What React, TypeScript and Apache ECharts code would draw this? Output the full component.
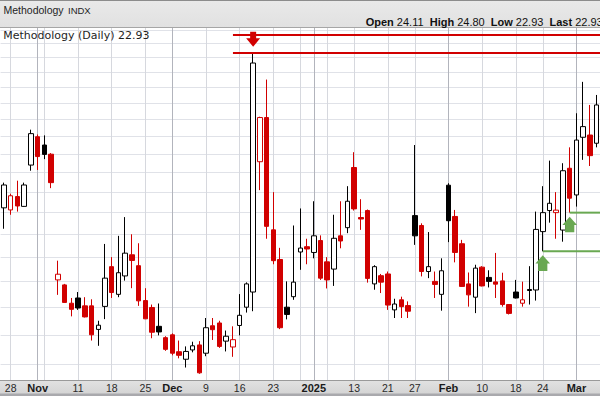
import React, { useEffect, useRef } from "react";
import * as echarts from "echarts";

const dates = [
  "2024-10-25", "2024-10-28", "2024-10-29", "2024-10-30", "2024-10-31",
  "2024-11-01", "2024-11-04", "2024-11-05", "2024-11-06", "2024-11-07", "2024-11-08",
  "2024-11-11", "2024-11-12", "2024-11-13", "2024-11-14", "2024-11-15",
  "2024-11-18", "2024-11-19", "2024-11-20", "2024-11-21", "2024-11-22",
  "2024-11-25", "2024-11-26", "2024-11-27", "2024-11-29",
  "2024-12-02", "2024-12-03", "2024-12-04", "2024-12-05", "2024-12-06",
  "2024-12-09", "2024-12-10", "2024-12-11", "2024-12-12", "2024-12-13",
  "2024-12-16", "2024-12-17", "2024-12-18", "2024-12-19", "2024-12-20",
  "2024-12-23", "2024-12-24", "2024-12-26", "2024-12-27", "2024-12-30", "2024-12-31",
  "2025-01-02", "2025-01-03", "2025-01-06", "2025-01-07", "2025-01-08", "2025-01-10",
  "2025-01-13", "2025-01-14", "2025-01-15", "2025-01-16", "2025-01-17",
  "2025-01-21", "2025-01-22", "2025-01-23", "2025-01-24",
  "2025-01-27", "2025-01-28", "2025-01-29", "2025-01-30", "2025-01-31",
  "2025-02-03", "2025-02-04", "2025-02-05", "2025-02-06", "2025-02-07",
  "2025-02-10", "2025-02-11", "2025-02-12", "2025-02-13", "2025-02-14",
  "2025-02-18", "2025-02-19", "2025-02-20", "2025-02-21",
  "2025-02-24", "2025-02-25", "2025-02-26", "2025-02-27", "2025-02-28",
  "2025-03-03", "2025-03-04", "2025-03-05", "2025-03-06",
];

const opens = [
  19.23, 19.13, 19.78, 19.30, 21.40,
  22.97, 22.50, 21.99, 16.06, 15.86, 15.15,
  15.35, 15.05, 15.05, 14.19, 15.03,
  16.60, 15.49, 16.22, 17.10, 16.64,
  15.25, 14.99, 14.30, 13.90,
  14.00, 13.42, 13.17, 13.48, 13.65,
  13.37, 14.32, 14.42, 13.78, 13.58,
  14.33, 15.00, 15.58, 21.58, 24.10,
  18.20, 16.90, 15.00, 15.40, 17.22, 17.45,
  17.20, 17.72, 16.80, 16.50, 17.93, 18.30,
  21.27, 18.77, 19.10, 15.90, 16.23,
  16.30, 14.90, 15.28, 15.06,
  18.86, 18.40, 16.40, 16.00, 15.49,
  20.35, 18.82, 17.58, 15.90, 15.38,
  16.58, 16.16, 15.98, 16.02, 15.10,
  15.58, 15.15, 15.68, 15.66,
  18.12, 19.10, 19.00, 18.19, 21.23,
  19.86, 22.94, 23.07, 22.60,
];

const highs = [
  20.48, 19.92, 20.58, 20.48, 23.38,
  23.10, 23.05, 22.05, 16.85, 15.90, 15.35,
  15.58, 15.38, 15.30, 14.50, 17.57,
  17.00, 17.93, 18.79, 18.00, 17.60,
  15.73, 15.10, 15.14, 13.95,
  14.05, 13.80, 13.60, 13.76, 13.78,
  14.60, 14.60, 14.50, 14.15, 14.30,
  15.50, 15.96, 28.32, 24.15, 26.50,
  20.00, 17.40, 16.00, 18.40, 19.20, 17.80,
  19.55, 17.95, 17.00, 18.90, 19.55, 20.30,
  22.10, 19.65, 19.15, 16.66, 16.30,
  16.40, 15.32, 15.40, 15.22,
  22.50, 18.50, 18.10, 16.40, 16.95,
  20.45, 19.13, 17.75, 16.36, 16.68,
  16.62, 16.45, 17.18, 16.35, 15.12,
  16.06, 15.99, 16.62, 19.05,
  20.30, 21.64, 20.00, 21.50, 22.37,
  24.36, 26.35, 24.87, 25.50,
];

const lows = [
  18.25, 18.90, 19.05, 19.28, 21.10,
  21.14, 21.72, 20.20, 15.47, 15.17, 14.66,
  14.90, 14.62, 13.80, 13.62, 14.56,
  15.35, 15.38, 16.03, 15.73, 15.05,
  14.56, 13.88, 13.98, 13.45,
  13.30, 13.20, 12.90, 13.40, 12.70,
  13.27, 13.82, 13.55, 13.43, 13.25,
  13.98, 14.80, 14.85, 20.10, 17.80,
  16.70, 14.20, 14.55, 15.28, 16.47, 16.70,
  16.95, 16.06, 15.72, 15.82, 17.38, 18.05,
  19.10, 18.20, 15.95, 15.67, 15.54,
  14.90, 14.60, 14.60, 14.60,
  17.53, 16.20, 16.13, 15.35, 14.87,
  17.65, 16.78, 15.78, 15.02, 14.78,
  15.80, 15.76, 15.35, 15.02, 14.73,
  15.33, 15.02, 15.10, 15.25,
  17.25, 18.53, 17.80, 17.67, 19.00,
  19.29, 21.68, 21.35, 22.37,
];

const closes = [
  20.36, 19.82, 19.32, 20.36, 23.15,
  21.86, 21.98, 20.48, 16.29, 15.18, 14.92,
  14.97, 14.64, 14.00, 14.34, 16.13,
  15.56, 16.35, 17.17, 16.86, 15.24,
  14.57, 14.09, 14.10, 13.50,
  13.37, 13.30, 13.43, 13.62, 12.73,
  14.25, 14.18, 13.60, 13.95, 13.83,
  14.70, 15.90, 27.62, 24.10, 18.36,
  16.85, 14.25, 14.73, 15.97, 17.39, 17.35,
  17.93, 16.13, 16.06, 17.82, 17.70, 19.55,
  19.18, 18.70, 16.12, 16.60, 15.97,
  15.08, 15.12, 15.02, 14.85,
  17.93, 16.40, 16.60, 15.88, 16.43,
  18.62, 17.20, 15.80, 15.47, 16.54,
  15.82, 16.00, 15.89, 15.10, 14.77,
  15.35, 15.28, 15.64, 18.22,
  19.00, 19.45, 19.12, 21.10, 19.70,
  22.78, 23.56, 21.91, 24.87,
];

const gridValues = [13, 14, 15, 16, 17, 18, 19, 20, 21, 22, 23, 24, 25, 26, 27, 28, 29, 30];

const tickDates = [
  "2024-10-28", "2024-11-01", "2024-11-11", "2024-11-18", "2024-11-25",
  "2024-12-02", "2024-12-09", "2024-12-16", "2024-12-23", "2025-01-02",
  "2025-01-13", "2025-01-21", "2025-01-27", "2025-02-03", "2025-02-10",
  "2025-02-18", "2025-02-24", "2025-03-03",
];
const tickTexts = [
  "28", "Nov", "11", "18", "25", "Dec", "9", "16", "23", "2025",
  "13", "21", "27", "Feb", "10", "18", "24", "Mar",
];
const monthStarts = ["2024-11-01", "2024-12-02", "2025-01-02", "2025-02-03", "2025-03-03"];
const weekStarts = [
  "2024-10-28", "2024-11-04", "2024-11-11", "2024-11-18", "2024-11-25",
  "2024-12-09", "2024-12-16", "2024-12-23", "2024-12-30", "2025-01-06",
  "2025-01-13", "2025-01-21", "2025-01-27", "2025-02-10", "2025-02-18", "2025-02-24",
];

// annotation levels
const resistanceStart = "2024-12-13";
const resistanceLevels = [29.62, 28.32];
const sellSignalDate = "2024-12-18";
const buySignalDates = ["2025-02-24", "2025-02-28"];

const headerTitle = "Methodology";
const headerSymbol = "INDX";
const legendText = "Methodology (Daily) 22.93";
const quote = { open: "24.11", high: "24.80", low: "22.93", last: "22.93" };

const Y_MIN = 12.504;
const Y_MAX = 30.147;
const RED = "#d10000";
const GREEN = "#69a852";
const FONT = "'Liberation Sans', Arial, sans-serif";
const VFONT = "'DejaVu Sans', Verdana, sans-serif";

export default function App() {
  const ref = useRef<HTMLDivElement>(null);

  useEffect(() => {
    const chart = echarts.init(ref.current as HTMLDivElement, null, { renderer: "svg" });

    const candleData = dates.map((d, i) => {
      const col = i === 0 || closes[i] >= closes[i - 1] ? "#000000" : RED;
      const fill = closes[i] >= opens[i] ? "#ffffff" : col;
      return {
        value: [opens[i], closes[i], lows[i], highs[i]],
        itemStyle: { color: fill, color0: fill, borderColor: col, borderColor0: col, borderWidth: 1 },
      };
    });

    const gridLines: any[] = [];
    gridValues.forEach((v) => gridLines.push({ yAxis: v, lineStyle: { color: "#e0e2e8", width: 1, type: "solid" } }));
    weekStarts.forEach((d) => gridLines.push({ xAxis: d, lineStyle: { color: "#d6d8de", width: 1, type: "solid" } }));
    monthStarts.forEach((d) => gridLines.push({ xAxis: d, lineStyle: { color: "#b2b4bc", width: 1, type: "solid" } }));

    const staticGraphics: any[] = [
      {
        id: "hdr", type: "rect", z: 1, silent: true,
        shape: { x: 0, y: 0, width: 600, height: 27.5 },
        style: {
          fill: { type: "linear", x: 0, y: 0, x2: 0, y2: 1, colorStops: [
            { offset: 0, color: "#e9e9e9" }, { offset: 1, color: "#e1e1e1" } ] },
        },
      },
      { id: "hdrTop", type: "line", z: 2, silent: true, shape: { x1: 0, y1: 0.5, x2: 600, y2: 0.5 }, style: { stroke: "#8c8c8c", lineWidth: 1 } },
      { id: "hdrBot", type: "line", z: 2, silent: true, shape: { x1: 0, y1: 27.5, x2: 600, y2: 27.5 }, style: { stroke: "#a6a6a6", lineWidth: 1 } },
      {
        id: "band", type: "rect", z: 1, silent: true,
        shape: { x: 0, y: 380, width: 600, height: 16 },
        style: {
          fill: { type: "linear", x: 0, y: 0, x2: 0, y2: 1, colorStops: [
            { offset: 0, color: "#e2e2e2" }, { offset: 1, color: "#d2d2d2" } ] },
        },
      },
      { id: "bandTop", type: "line", z: 2, silent: true, shape: { x1: 0, y1: 380.5, x2: 600, y2: 380.5 }, style: { stroke: "#9a9a9a", lineWidth: 1 } },
      { id: "bandBot", type: "rect", z: 2, silent: true, shape: { x: 0, y: 393.5, width: 600, height: 2.5 }, style: { fill: "#a9a9ad" } },
      {
        id: "title", type: "text", z: 3, x: 3.5, y: 10,
        style: { text: headerTitle, fontFamily: FONT, fontSize: 10.5, fill: "#1e1e1e", verticalAlign: "middle" },
      },
      {
        id: "symbol", type: "text", z: 3, x: 68, y: 10,
        style: { text: headerSymbol, fontFamily: FONT, fontSize: 9.5, fill: "#1e1e1e", verticalAlign: "middle" },
      },
      {
        id: "quote", type: "text", z: 3, x: 365.7, y: 21.5,
        style: {
          text: `{b|Open} {v|${quote.open}}  {b|High} {v|${quote.high}}  {b|Low} {v|${quote.low}}  {b|Last} {v|${quote.last}}`,
          verticalAlign: "middle", fontFamily: FONT, fontSize: 11,
          rich: {
            b: { fontFamily: FONT, fontSize: 11, fontWeight: "bold", fill: "#111" },
            v: { fontFamily: FONT, fontSize: 11, fill: "#111" },
          },
        },
      },
      {
        id: "lg", type: "text", z: 3, x: 3.3, y: 35,
        style: { text: legendText, fontFamily: VFONT, fontSize: 11, fill: "#1e1e1e", verticalAlign: "middle" },
      },
    ];

    chart.setOption({
      animation: false,
      backgroundColor: "#ffffff",
      grid: { left: 0.6, right: 0, top: 28, bottom: 16, containLabel: false },
      xAxis: {
        type: "category",
        data: dates,
        boundaryGap: true,
        z: 10,
        axisLine: { show: false },
        axisTick: { show: false },
        splitLine: { show: false },
        axisLabel: {
          interval: (_i: number, v: string) => tickDates.indexOf(v) >= 0,
          margin: 2,
          formatter: (v: string) => {
            const k = tickDates.indexOf(v);
            if (k < 0) return "";
            return monthStarts.indexOf(v) >= 0 ? `{m|${tickTexts[k]}}` : `{d|${tickTexts[k]}}`;
          },
          rich: {
            m: { fontFamily: FONT, fontSize: 11, fontWeight: "bold", color: "#1a1a1a" },
            d: { fontFamily: FONT, fontSize: 10.5, color: "#2a2a2a" },
          },
        },
      },
      yAxis: { type: "log", min: Y_MIN, max: Y_MAX, show: false, splitLine: { show: false } },
      series: [
        {
          type: "line",
          data: [],
          z: 1,
          silent: true,
          markLine: {
            silent: true,
            symbol: "none",
            animation: false,
            z: 1,
            label: { show: false },
            emphasis: { disabled: true },
            data: gridLines,
          },
        },
        {
          type: "candlestick",
          z: 3,
          barWidth: 5,
          data: candleData,
        },
      ],
      graphic: staticGraphics,
    });

    const px = (d: string, v: number) => chart.convertToPixel({ gridIndex: 0 }, [dates.indexOf(d), v]) as number[];
    const ann: any[] = [];
    resistanceLevels.forEach((v, k) => {
      const p = px(resistanceStart, v);
      ann.push({ id: "res" + k, type: "line", z: 5, silent: true, shape: { x1: p[0], y1: p[1], x2: 600, y2: p[1] }, style: { stroke: RED, lineWidth: 2 } });
    });
    {
      const i = dates.indexOf(sellSignalDate);
      const p = px(sellSignalDate, highs[i]);
      const cx = p[0];
      const tip = p[1] - 6.3;
      ann.push({
        id: "sell", type: "polygon", z: 6, silent: true,
        shape: { points: [
          [cx - 3, tip - 15], [cx + 3, tip - 15], [cx + 3, tip - 8.4], [cx + 7, tip - 8.4],
          [cx, tip], [cx - 7, tip - 8.4], [cx - 3, tip - 8.4] ] },
        style: { fill: RED },
      });
    }
    buySignalDates.forEach((d, k) => {
      const i = dates.indexOf(d);
      const p = px(d, lows[i]);
      ann.push({ id: "sup" + k, type: "line", z: 5, silent: true, shape: { x1: p[0], y1: p[1], x2: 600, y2: p[1] }, style: { stroke: GREEN, lineWidth: 2 } });
      const cx = p[0];
      const tip = p[1] + 4;
      ann.push({
        id: "buy" + k, type: "polygon", z: 6, silent: true,
        shape: { points: [
          [cx, tip], [cx + 7.3, tip + 8.3], [cx + 4.6, tip + 8.3], [cx + 4.6, tip + 15.7],
          [cx - 4.6, tip + 15.7], [cx - 4.6, tip + 8.3], [cx - 7.3, tip + 8.3] ] },
        style: { fill: GREEN },
      });
    });

    chart.setOption({ graphic: [...staticGraphics, ...ann] });

    return () => chart.dispose();
  }, []);

  return <div ref={ref} style={{ position: "absolute", left: 0, top: 0, width: 600, height: 396 }} />;
}
